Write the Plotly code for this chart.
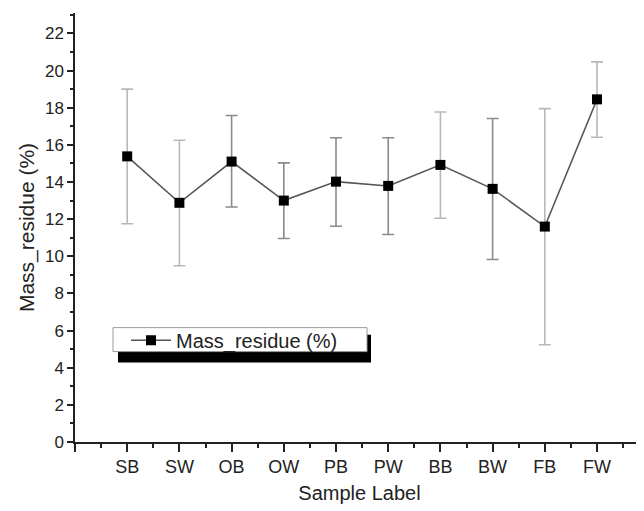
import plotly.graph_objects as go

labels = ["SB", "SW", "OB", "OW", "PB", "PW", "BB", "BW", "FB", "FW"]
mass_residue = [15.38, 12.88, 15.1, 13.0, 14.02, 13.79, 14.92, 13.63, 11.6, 18.45]
err_upper = [19.0, 16.25, 17.58, 15.03, 16.38, 16.38, 17.77, 17.42, 17.95, 20.47]
err_lower = [11.75, 9.49, 12.65, 10.96, 11.62, 11.17, 12.05, 9.83, 5.24, 16.41]

# error bar shade per point (as rendered in the original)
err_dark = [False, False, True, True, True, True, False, True, False, False]

xpos = list(range(1, len(labels) + 1))
plus = [u - v for u, v in zip(err_upper, mass_residue)]
minus = [v - l for v, l in zip(mass_residue, err_lower)]

fig = go.Figure()
for dark, col in [(False, "#b8b8b8"), (True, "#8a8a8a")]:
    idx = [i for i in range(len(labels)) if err_dark[i] == dark]
    fig.add_trace(go.Scatter(
        x=[xpos[i] for i in idx], y=[mass_residue[i] for i in idx],
        mode="markers", marker=dict(opacity=0, size=1), showlegend=False,
        hoverinfo="skip",
        error_y=dict(type="data", symmetric=False,
                     array=[plus[i] for i in idx], arrayminus=[minus[i] for i in idx],
                     color=col, thickness=1.6, width=6),
    ))

fig.add_trace(go.Scatter(
    x=xpos, y=mass_residue, mode="lines+markers", name="Mass_residue (%)",
    line=dict(color="#555555", width=1.5),
    marker=dict(symbol="square", size=10, color="black"),
))

# page has an 8px body margin: work in page pixels, convert to figure pixels
OFF = 8
W, H = 644 - OFF, 511 - OFF
L, R, T, B = 75 - OFF, 644 - OFF, 13 - OFF, 442.5 - OFF

def px2x(p):
    return (p - OFF - L) / (R - L)
def py2y(p):
    return (B - (p - OFF)) / (B - T)

shapes = [
    dict(type="rect", xref="paper", yref="paper", layer="above",
         x0=px2x(118), x1=px2x(371), y0=py2y(363), y1=py2y(335),
         fillcolor="black", line=dict(width=0)),
    dict(type="rect", xref="paper", yref="paper", layer="above",
         x0=px2x(113), x1=px2x(367), y0=py2y(352), y1=py2y(328),
         fillcolor="white", line=dict(color="#999999", width=1)),
]

fig.update_layout(
    width=W, height=H,
    margin=dict(l=L, r=W - R, t=T, b=H - B, autoexpand=False),
    plot_bgcolor="white", paper_bgcolor="white",
    font=dict(family="Liberation Sans, Arial, sans-serif", color="#222222"),
    showlegend=True,
    legend=dict(x=px2x(126), y=py2y(321), xanchor="left", yanchor="top",
                bgcolor="rgba(0,0,0,0)", borderwidth=0,
                font=dict(size=20), itemwidth=40, tracegroupgap=0),
    shapes=shapes,
    xaxis=dict(
        range=[0, 10.9], tickmode="array", tickvals=[0] + xpos,
        ticktext=[""] + labels, ticks="outside", ticklen=8, tickwidth=1.5,
        tickcolor="#222", showline=True, linecolor="#222", linewidth=1.5,
        showgrid=False, zeroline=False, tickfont=dict(size=18),
        minor=dict(tickmode="array", tickvals=[i + 0.5 for i in range(11)],
                   ticks="outside", ticklen=4, tickwidth=1.5, tickcolor="#222"),
        title=dict(text="Sample Label", font=dict(size=20), standoff=10),
    ),
    yaxis=dict(
        range=[0, 23.1], tickmode="linear", tick0=0, dtick=2,
        ticks="outside", ticklen=6, tickwidth=1.5, tickcolor="#222",
        showline=True, linecolor="#222", linewidth=1.5,
        showgrid=False, zeroline=False, tickfont=dict(size=17),
        minor=dict(dtick=1, ticks="outside", ticklen=3, tickwidth=1.5, tickcolor="#222"),
        title=dict(text="Mass_residue (%)", font=dict(size=21), standoff=5),
    ),
)

fig.write_html("out.html")
